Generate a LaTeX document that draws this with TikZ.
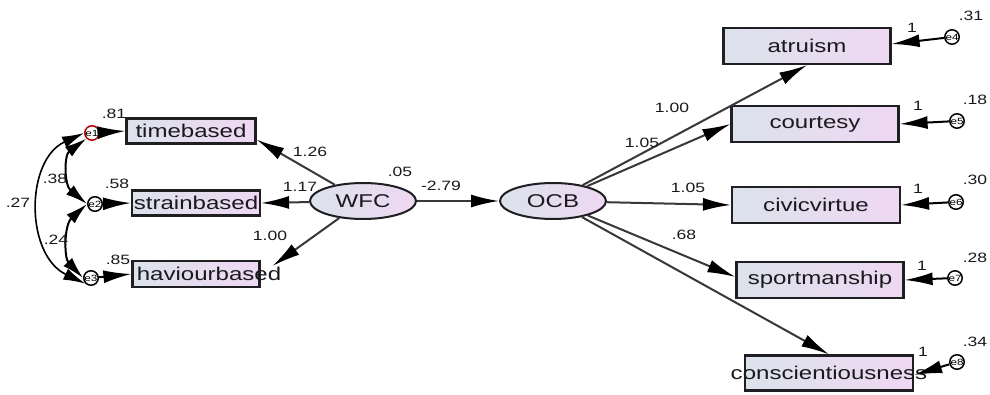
\documentclass[tikz,border=0pt]{standalone}
\usepackage{fontspec}
\setmainfont{Liberation Sans}[FakeStretch=1.3]
\usetikzlibrary{shapes.geometric,arrows.meta}
\definecolor{boxL}{RGB}{220,226,236}
\definecolor{boxR}{RGB}{238,216,242}
\definecolor{edge}{RGB}{30,30,35}
\definecolor{wire}{RGB}{55,55,60}
\definecolor{ink}{RGB}{25,25,30}
\begin{document}
\begin{tikzpicture}[x=1pt,y=-1pt,
  obs/.style={rectangle, draw=edge, line width=2.2pt, left color=boxL, right color=boxR,
    inner sep=0pt, text=ink, font=\fontsize{18.5}{20}\selectfont},
  lat/.style={ellipse, draw=edge, line width=2pt, left color=boxL, right color=boxR,
    minimum width=106pt, minimum height=36pt, inner sep=0pt, text=ink,
    font=\fontsize{18.5}{20}\selectfont},
  err/.style={circle, draw=black, line width=1.5pt, minimum size=11pt, inner sep=0pt,
    font=\fontsize{9}{10}\selectfont},
  lbl/.style={font=\fontsize{13.5}{14}\selectfont, text=ink, inner sep=0pt},
  arr/.style={draw=wire, line width=2pt,
    -{Latex[length=28pt,width=13pt,color=black]}},
  cov/.style={draw=black, line width=2pt,
    {Latex[length=22pt,width=12pt]}-{Latex[length=22pt,width=12pt]}}
]
\useasboundingbox (0,0) rectangle (990,395);

% indicators of WFC
\node[obs, minimum width=129pt, minimum height=25pt] (timebased) at (191,131) {timebased};
\node[obs, minimum width=128pt, minimum height=25pt] (strainbased) at (196,203) {strainbased};
\node[obs, minimum width=127pt, minimum height=26pt] (haviourbased) at (196,274) {};
\node[text=ink, inner sep=0pt, font=\fontsize{18.5}{20}\selectfont] (haviourtext) at (209,274) {haviourbased};

% indicators of OCB
\node[obs, minimum width=167pt, minimum height=36pt] (atruism) at (807,46) {atruism};
\node[obs, minimum width=167pt, minimum height=36pt] (courtesy) at (815,124) {courtesy};
\node[obs, minimum width=168pt, minimum height=36pt] (civicvirtue) at (816,205) {civicvirtue};
\node[obs, minimum width=167pt, minimum height=36pt] (sportmanship) at (820,280) {sportmanship};
\node[obs, minimum width=168pt, minimum height=35pt] (conscientiousness) at (829,373) {};
\node[text=ink, inner sep=0pt, font=\fontsize{18.5}{20}\selectfont] (constext) at (829,373) {conscientiousness};

% latent variables
\node[lat] (WFC) at (363,201) {WFC};
\node[lat] (OCB) at (553,201) {OCB};

% error terms
\node[err, draw=red!70!black] (e1) at (92,133) {e1};
\node[err] (e2) at (95,204) {e2};
\node[err] (e3) at (91,278) {e3};
\node[err] (e4) at (952,37) {e4};
\node[err] (e5) at (957,121) {e5};
\node[err] (e6) at (956,202) {e6};
\node[err] (e7) at (955,278) {e7};
\node[err] (e8) at (957,362) {e8};

% arrow end points on the WFC side
\coordinate (tbTip) at ([yshift=5pt]timebased.south east);
\coordinate (hbTip) at ([xshift=12pt,yshift=-6pt]haviourbased.north east);

% structural paths
\draw[arr] (WFC) -- (tbTip);
\draw[arr] (WFC) -- (strainbased.east);
\draw[arr] (WFC) -- (hbTip);
\draw[arr] (WFC) -- (OCB);
\draw[arr] (OCB) -- (atruism.south);
\draw[arr] (OCB) -- (courtesy.west);
\draw[arr] (OCB) -- (civicvirtue.west);
\draw[arr] (OCB) -- ([yshift=3pt]sportmanship.west);
\draw[arr] (OCB) -- (conscientiousness.north);

% error paths
\draw[arr, draw=black] (e1) -- (timebased.west);
\draw[arr, draw=black] (e2) -- (strainbased.west);
\draw[arr, draw=black] (e3) -- (haviourbased.west);
\draw[arr, draw=black] (e4) -- ([yshift=2pt]atruism.east);
\draw[arr, draw=black] (e5) -- (courtesy.east);
\draw[arr, draw=black] (e6) -- (civicvirtue.east);
\draw[arr, draw=black] (e7) -- (sportmanship.east);
\draw[arr, draw=black] (e8) -- ([yshift=-2pt]conscientiousness.east);

% covariances among the WFC errors
\draw[cov] (e1.south west) .. controls (64,155) and (64,185) .. (e2.west);
\draw[cov] (e2.west) .. controls (64,225) and (64,258) .. (e3.west);
\draw[cov, line width=1.6pt] (e1.west) .. controls (25,160) and (25,255) .. (e3.south west);

% estimates
\node[lbl] (l126) at (310,152) {1.26};
\node[lbl] (l117) at (300,187) {1.17};
\node[lbl] (l100a) at (270,236) {1.00};
\node[lbl] (l05) at (400,172) {.05};
\node[lbl] (l279) at (441,186) {-2.79};
\node[lbl] (l100b) at (672,108) {1.00};
\node[lbl] (l105a) at (642,143) {1.05};
\node[lbl] (l105b) at (688,188) {1.05};
\node[lbl] (l68) at (684,235) {.68};

\node[lbl] (l81) at (114,114) {.81};
\node[lbl] (l58) at (117,184) {.58};
\node[lbl] (l85) at (118,260) {.85};
\node[lbl] (l38) at (55,179) {.38};
\node[lbl] (l27) at (18,203) {.27};
\node[lbl] (l24) at (56,240) {.24};

\node[lbl] (f4) at (912,28) {1};
\node[lbl] (f5) at (918,106) {1};
\node[lbl] (f6) at (918,189) {1};
\node[lbl] (f7) at (922,266) {1};
\node[lbl] (f8) at (923,352) {1};
\node[lbl] (v4) at (971,16) {.31};
\node[lbl] (v5) at (975,100) {.18};
\node[lbl] (v6) at (975,180) {.30};
\node[lbl] (v7) at (975,258) {.28};
\node[lbl] (v8) at (975,342) {.34};
\end{tikzpicture}
\end{document}
